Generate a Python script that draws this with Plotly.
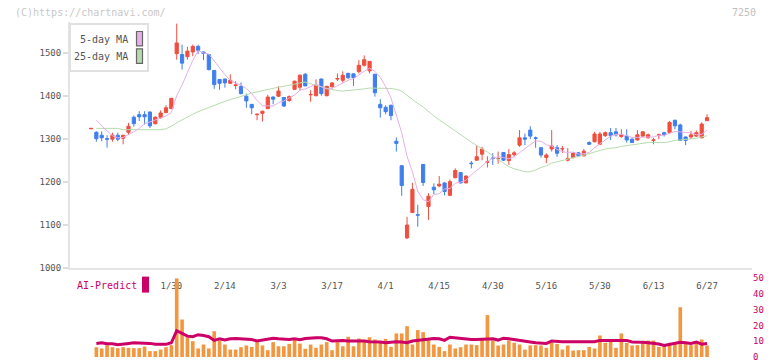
import plotly.graph_objects as go

# ---------------- data ----------------
opens = [1324, 1316, 1309, 1301, 1300, 1309, 1302, 1316, 1351, 1357,
         1357, 1363, 1336, 1351, 1362, 1371, 1499, 1497, 1492, 1503,
         1516, 1503, 1497, 1460, 1439, 1440, 1430, 1425, 1423, 1400,
         1381, 1357, 1360, 1371, 1398, 1400, 1397, 1390, 1416, 1421,
         1451, 1403, 1401, 1440, 1401, 1422, 1440, 1437, 1453, 1452,
         1457, 1472, 1459, 1451, 1381, 1374, 1379, 1295, 1238, 1070,
         1129, 1124, 1241, 1143, 1188, 1191, 1198, 1169, 1210, 1222,
         1198, 1244, 1251, 1265, 1246, 1256, 1254, 1269, 1250, 1264,
         1286, 1303, 1321, 1303, 1280, 1257, 1277, 1280, 1277, 1251,
         1257, 1268, 1261, 1292, 1294, 1288, 1308, 1315, 1317, 1306,
         1307, 1300, 1298, 1307, 1303, 1297, 1309, 1315, 1315, 1344,
         1333, 1305, 1305, 1307, 1303, 1343]
highs = [1325, 1318, 1318, 1309, 1315, 1315, 1310, 1338, 1355, 1365,
         1365, 1365, 1353, 1367, 1379, 1396, 1569, 1520, 1515, 1520,
         1520, 1504, 1498, 1461, 1440, 1441, 1451, 1435, 1432, 1406,
         1382, 1359, 1366, 1403, 1400, 1423, 1398, 1402, 1436, 1450,
         1454, 1414, 1439, 1441, 1424, 1432, 1453, 1458, 1455, 1453,
         1484, 1495, 1481, 1452, 1393, 1379, 1380, 1304, 1240, 1119,
         1198, 1147, 1242, 1174, 1197, 1214, 1199, 1206, 1232, 1223,
         1215, 1249, 1285, 1282, 1260, 1267, 1271, 1270, 1277, 1272,
         1321, 1313, 1330, 1306, 1281, 1267, 1321, 1286, 1284, 1279,
         1270, 1270, 1277, 1295, 1317, 1317, 1318, 1326, 1326, 1323,
         1323, 1302, 1321, 1318, 1313, 1303, 1313, 1317, 1342, 1345,
         1336, 1306, 1319, 1320, 1339, 1358]
lows = [1324, 1294, 1295, 1280, 1294, 1295, 1288, 1310, 1329, 1342,
        1334, 1326, 1334, 1347, 1360, 1370, 1485, 1462, 1485, 1493,
        1498, 1484, 1460, 1417, 1415, 1420, 1429, 1416, 1404, 1373,
        1358, 1344, 1341, 1370, 1381, 1398, 1375, 1387, 1415, 1413,
        1423, 1387, 1400, 1401, 1400, 1420, 1435, 1432, 1440, 1424,
        1453, 1469, 1453, 1399, 1350, 1358, 1344, 1271, 1168, 1067,
        1128, 1096, 1191, 1112, 1172, 1188, 1169, 1168, 1209, 1197,
        1197, 1232, 1249, 1251, 1234, 1240, 1243, 1249, 1240, 1258,
        1282, 1286, 1300, 1280, 1257, 1244, 1271, 1259, 1268, 1248,
        1255, 1260, 1260, 1287, 1292, 1286, 1305, 1298, 1306, 1303,
        1292, 1292, 1297, 1306, 1302, 1288, 1300, 1306, 1314, 1323,
        1297, 1286, 1300, 1305, 1302, 1342]
closes = [1325, 1301, 1303, 1300, 1309, 1300, 1309, 1330, 1336, 1352,
          1352, 1331, 1351, 1361, 1373, 1395, 1524, 1477, 1505, 1516,
          1507, 1500, 1462, 1427, 1430, 1431, 1437, 1426, 1406, 1389,
          1373, 1358, 1365, 1398, 1393, 1412, 1377, 1399, 1435, 1449,
          1424, 1404, 1426, 1406, 1423, 1431, 1441, 1449, 1443, 1443,
          1472, 1485, 1481, 1408, 1373, 1364, 1355, 1290, 1192, 1100,
          1183, 1123, 1199, 1167, 1182, 1195, 1178, 1201, 1227, 1198,
          1214, 1243, 1259, 1277, 1247, 1255, 1255, 1251, 1264, 1268,
          1303, 1300, 1307, 1302, 1263, 1263, 1284, 1267, 1278, 1255,
          1267, 1261, 1272, 1288, 1312, 1312, 1315, 1308, 1310, 1310,
          1298, 1292, 1310, 1317, 1310, 1298, 1310, 1310, 1339, 1331,
          1297, 1297, 1310, 1315, 1335, 1350]

ma5 = [None, 1344, 1331, 1319, 1308, 1303, 1304, 1310, 1317, 1325,
       1336, 1340, 1344, 1349, 1354, 1362, 1401, 1426, 1455, 1483,
       1506, 1501, 1498, 1482, 1465, 1450, 1437, 1430, 1426, 1418,
       1406, 1390, 1378, 1377, 1377, 1385, 1389, 1396, 1403, 1414,
       1417, 1422, 1428, 1422, 1417, 1418, 1425, 1430, 1437, 1441,
       1450, 1458, 1465, 1458, 1444, 1422, 1396, 1358, 1315, 1260,
       1224, 1178, 1159, 1154, 1171, 1173, 1184, 1185, 1197, 1200,
       1204, 1217, 1228, 1238, 1248, 1256, 1259, 1257, 1254, 1259,
       1268, 1277, 1288, 1296, 1295, 1287, 1284, 1276, 1271, 1269,
       1270, 1265, 1266, 1269, 1280, 1289, 1300, 1307, 1311, 1311,
       1308, 1304, 1304, 1305, 1305, 1305, 1309, 1309, 1313, 1318,
       1317, 1315, 1315, 1310, 1311, 1321]
ma25 = [None, 1325, 1325, 1325, 1325, 1325, 1322, 1322, 1322, 1322,
        1322, 1322, 1322, 1322, 1324, 1330, 1338, 1345, 1352, 1358,
        1364, 1369, 1374, 1379, 1384, 1388, 1392, 1396, 1400, 1404,
        1407, 1410, 1413, 1416, 1419, 1421, 1423, 1425, 1428, 1431,
        1433, 1429, 1426, 1422, 1418, 1415, 1413, 1412, 1413, 1414,
        1415, 1417, 1419, 1419, 1419, 1418, 1418, 1416, 1412, 1402,
        1392, 1383, 1375, 1364, 1354, 1345, 1336, 1327, 1319, 1310,
        1301, 1293, 1285, 1278, 1270, 1261, 1252, 1243, 1236, 1231,
        1227, 1224, 1224, 1228, 1234, 1238, 1244, 1247, 1251, 1254,
        1257, 1260, 1263, 1266, 1270, 1274, 1277, 1279, 1280, 1283,
        1285, 1286, 1288, 1290, 1292, 1292, 1292, 1292, 1294, 1297,
        1298, 1299, 1300, 1302, 1305, 1308]

volume = [None, 6.2, 5.4, 7.5, 6.2, 5.6, 6.2, 5.8, 5.6, 5.6,
          6.6, 3.7, 3.7, 4.7, 6.2, 7.5, 49.7, 23.7, 12.5, 10.0,
          5.4, 7.9, 5.4, 16.3, 10.4, 7.9, 4.7, 4.7, 6.2, 7.3,
          6.4, 9.4, 7.3, 4.3, 9.4, 6.8, 6.8, 8.3, 11.1, 8.5,
          5.2, 7.9, 5.8, 7.9, 9.4, 4.3, 9.4, 6.8, 12.8, 6.8,
          11.7, 10.4, 12.5, 11.1, 10.0, 11.5, 6.4, 14.9, 14.9, 19.5,
          7.9, 17.0, 15.7, 11.1, 7.9, 6.4, 3.7, 7.9, 5.4, 6.2,
          7.9, 7.9, 7.5, 11.1, 26.5, 10.4, 7.3, 7.9, 10.4, 9.0,
          7.9, 4.7, 7.3, 7.5, 7.3, 5.8, 9.0, 8.3, 4.7, 7.3,
          4.1, 4.3, 4.3, 6.4, 5.4, 13.6, 9.0, 9.6, 5.8, 14.9,
          9.0, 7.3, 7.5, 9.0, 10.4, 10.4, 6.4, 7.5, 9.0, 8.3,
          31.5, 8.5, 7.5, 9.0, 11.1, 7.3]
ai_predict = [None, 8.6, 9.0, 8.4, 8.4, 7.8, 8.4, 8.6, 9.0, 9.0,
              8.6, 8.6, 8.0, 7.8, 8.0, 9.0, 16.6, 14.9, 13.2, 12.8,
              14.1, 13.6, 12.8, 10.5, 11.5, 10.7, 11.5, 11.7, 11.5, 11.5,
              11.1, 10.1, 10.7, 11.1, 11.9, 11.5, 11.1, 11.1, 11.5, 10.9,
              11.7, 12.1, 12.1, 12.1, 11.5, 10.1, 10.5, 10.5, 10.1, 10.1,
              10.5, 10.1, 9.7, 9.7, 9.5, 9.0, 9.5, 9.7, 9.5, 9.0,
              10.1, 10.5, 11.1, 11.5, 11.7, 11.5, 10.5, 12.5, 12.1, 11.9,
              11.1, 11.1, 11.1, 11.1, 11.1, 11.5, 10.7, 11.9, 11.5, 10.9,
              10.5, 10.1, 9.5, 9.0, 8.8, 8.6, 10.1, 9.7, 9.7, 9.7,
              9.7, 9.7, 9.7, 9.7, 9.7, 10.5, 10.5, 10.5, 10.5, 10.5,
              10.5, 9.5, 9.5, 9.3, 9.0, 8.6, 8.2, 7.3, 8.0, 8.4,
              9.3, 9.0, 8.6, 9.5, 8.1, 8.6]

tick_positions = [15, 25, 35, 45, 55, 65, 75, 85, 95, 105, 115]
tick_labels = ["1/30", "2/14", "3/3", "3/17", "4/1", "4/15", "4/30",
               "5/16", "5/30", "6/13", "6/27"]
price_ticks = [1000, 1100, 1200, 1300, 1400, 1500]
sub_ticks = [0, 10, 20, 30, 40, 50]

# ---------------- layout geometry ----------------
# The page body has the browser's default 8px margin, so the figure is
# sized to the window minus that offset; positions below are page pixels.
OFF = 8
PAGE_W, PAGE_H = 772, 361
W, H = PAGE_W - OFF, PAGE_H - OFF
PL, PR, PT, PB = 70, 752, 22, 357.5          # plot area edges in page pixels
ML, MR, MT, MB = PL - OFF, PAGE_W - PR, PT - OFF, PAGE_H - PB
PW, PH = PR - PL, PB - PT
FONT = "DejaVu Sans Mono"


def pxx(v):
    return (v - PL) / PW


def pxy(v):
    return (PB - v) / PH


FIRST_PX, STEP_PX = 91.0, 5.357
x_range = [(PL - FIRST_PX) / STEP_PX, (PR - FIRST_PX) / STEP_PX]
y_range = [1000, 1000 + (268.3 - PT) / 0.43]

x = list(range(len(closes)))

RED = "#f04e3e"
BLUE = "#3f7fef"
PINK = "#e6b0e6"
GREEN = "#b6dcae"
MAG = "#cc0066"
ORANGE = "#f2973f"

fig = go.Figure()

fig.add_trace(go.Scatter(x=x, y=ma25, mode="lines", line=dict(color=GREEN, width=1),
                         hoverinfo="skip", showlegend=False, xaxis="x", yaxis="y"))
fig.add_trace(go.Scatter(x=x, y=ma5, mode="lines", line=dict(color=PINK, width=1),
                         hoverinfo="skip", showlegend=False, xaxis="x", yaxis="y"))
fig.add_trace(go.Candlestick(
    x=x, open=opens, high=highs, low=lows, close=closes,
    increasing=dict(line=dict(color=RED, width=1), fillcolor=RED),
    decreasing=dict(line=dict(color=BLUE, width=1), fillcolor=BLUE),
    whiskerwidth=0, showlegend=False, hoverinfo="skip", xaxis="x", yaxis="y"))

fig.add_trace(go.Bar(x=x, y=volume, marker=dict(color=ORANGE, line=dict(width=0)),
                     width=0.68, showlegend=False, hoverinfo="skip", xaxis="x2", yaxis="y2"))
fig.add_trace(go.Scatter(x=x, y=ai_predict, mode="lines", line=dict(color=MAG, width=3),
                         showlegend=False, hoverinfo="skip", xaxis="x2", yaxis="y2"))

fig.update_layout(
    width=W, height=H, autosize=False,
    margin=dict(l=ML, r=MR, t=MT, b=MB, pad=0, autoexpand=False),
    paper_bgcolor="white", plot_bgcolor="white",
    boxgap=0.15,
    showlegend=False,
    xaxis=dict(domain=[0, 1], range=x_range, anchor="y",
               tickmode="array", tickvals=tick_positions, ticktext=tick_labels,
               ticks="outside", ticklen=8, tickcolor="rgba(0,0,0,0)",
               tickfont=dict(family=FONT, size=9, color="#555"),
               showline=True, linecolor="#e4e4e4", linewidth=2,
               showgrid=False, zeroline=False, rangeslider=dict(visible=False),
               fixedrange=True),
    xaxis3=dict(overlaying="x", anchor="y", range=x_range,
                tickmode="linear", tick0=x_range[0], dtick=62 / STEP_PX,
                ticks="outside", ticklen=6, tickwidth=1.5, tickcolor="#dddddd",
                showticklabels=False, showgrid=False, zeroline=False, showline=False),
    xaxis4=dict(overlaying="x", anchor="y", range=x_range,
                tickmode="linear", tick0=x_range[0], dtick=62 / STEP_PX,
                ticks="inside", ticklen=3, tickwidth=1.5, tickcolor="#dddddd",
                showticklabels=False, showgrid=False, zeroline=False, showline=False),
    yaxis=dict(domain=[pxy(268.3), 1], range=y_range, anchor="x",
               tickmode="array", tickvals=price_ticks,
               ticks="outside", ticklen=5, tickwidth=1.5, tickcolor="#dddddd",
               tickfont=dict(family=FONT, size=9, color="#555"),
               showline=True, linecolor="#e4e4e4", linewidth=2,
               showgrid=False, zeroline=False, fixedrange=True),
    xaxis2=dict(domain=[0, 1], range=x_range, anchor="y2", visible=False),
    yaxis2=dict(domain=[0, pxy(278.3)], range=[0, 50], anchor="x2", side="right",
                tickmode="array", tickvals=sub_ticks, ticks="",
                ticklabeloverflow="allow",
                tickfont=dict(family=FONT, size=9, color=MAG),
                showline=False, showgrid=False, zeroline=False),
)

# custom MA legend box
fig.add_shape(type="rect", xref="paper", yref="paper",
              x0=pxx(70), x1=pxx(148), y0=pxy(71), y1=pxy(24),
              line=dict(color="#e0e0e0", width=2), fillcolor="white", layer="above")
fig.add_shape(type="rect", xref="paper", yref="paper",
              x0=pxx(136.5), x1=pxx(142.5), y0=pxy(46), y1=pxy(31.5),
              line=dict(color="#666", width=1.2), fillcolor=PINK, layer="above")
fig.add_shape(type="rect", xref="paper", yref="paper",
              x0=pxx(136.5), x1=pxx(142.5), y0=pxy(63.5), y1=pxy(49),
              line=dict(color="#666", width=1.2), fillcolor=GREEN, layer="above")
# AI-Predict swatch
fig.add_shape(type="rect", xref="paper", yref="paper",
              x0=pxx(142), x1=pxx(149), y0=pxy(293), y1=pxy(277),
              line=dict(width=0), fillcolor=MAG, layer="above")

annots = [
    dict(text="5-day MA", x=pxx(130), y=pxy(39.5), xanchor="right", yanchor="middle",
         font=dict(family=FONT, size=10, color="#555")),
    dict(text="25-day MA", x=pxx(130), y=pxy(56.5), xanchor="right", yanchor="middle",
         font=dict(family=FONT, size=10, color="#555")),
    dict(text="(C)https://chartnavi.com/", x=pxx(13), y=pxy(12), xanchor="left", yanchor="middle",
         font=dict(family=FONT, size=10, color="#c8c8c8")),
    dict(text="7250", x=pxx(758), y=pxy(12), xanchor="right", yanchor="middle",
         font=dict(family=FONT, size=10, color="#c0c0c0")),
    dict(text="AI-Predict", x=pxx(75), y=pxy(286), xanchor="left", yanchor="middle",
         font=dict(family=FONT, size=10, color=MAG)),
]
for a in annots:
    fig.add_annotation(xref="paper", yref="paper", showarrow=False, **a)

fig.write_html("out.html")
